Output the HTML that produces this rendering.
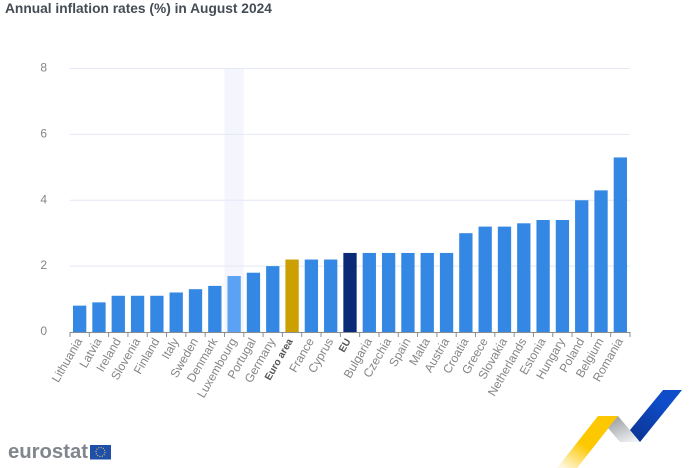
<!DOCTYPE html>
<html>
<head>
<meta charset="utf-8">
<title>Annual inflation rates</title>
<style>
html,body{margin:0;padding:0;background:#fff;width:700px;height:468px;overflow:hidden}
svg{display:block;font-family:"Liberation Sans",sans-serif}
</style>
</head>
<body>
<svg id="chart" width="700" height="468" viewBox="0 0 700 468" xmlns="http://www.w3.org/2000/svg">
  <defs>
    <linearGradient id="yg" x1="0.75" y1="0.2" x2="0.1" y2="1">
      <stop offset="0.45" stop-color="#fdc800"/>
      <stop offset="1" stop-color="#fdf8e0"/>
    </linearGradient>
    <linearGradient id="gg" x1="0.2" y1="0" x2="0.75" y2="1">
      <stop offset="0" stop-color="#9a9da0"/>
      <stop offset="1" stop-color="#eef0f4"/>
    </linearGradient>
    <linearGradient id="bg" x1="0.9" y1="0" x2="0.2" y2="1">
      <stop offset="0.3" stop-color="#0f4cc8"/>
      <stop offset="1" stop-color="#0b3595"/>
    </linearGradient>
  </defs>
  <text x="5" y="13" font-size="13.75" font-weight="700" fill="#444c55">Annual inflation rates (%) in August 2024</text>
  <g id="plot"></g>
  <g>
    <text x="8" y="458" font-size="20.5" font-weight="700" fill="#80868b" textLength="80" lengthAdjust="spacingAndGlyphs">eurostat</text>
    <rect x="90" y="445" width="21" height="14.5" fill="#1f4fa8"/>
    <circle cx="100.5" cy="452" r="4.5" fill="none" stroke="#e8d35a" stroke-width="1.1" stroke-dasharray="1 1.35"/>
  </g>
  <g>
    <polygon points="598,416 618,416 577,468 557,468" fill="url(#yg)"/>
    <polygon points="618,416 640,442 620,442 608,428" fill="url(#gg)"/>
    <polygon points="663,390 682,390 640,442 630,430" fill="url(#bg)"/>
  </g>
</svg>
<script>
const categories = ["Lithuania","Latvia","Ireland","Slovenia","Finland","Italy","Sweden","Denmark","Luxembourg","Portugal","Germany","Euro area","France","Cyprus","EU","Bulgaria","Czechia","Spain","Malta","Austria","Croatia","Greece","Slovakia","Netherlands","Estonia","Hungary","Poland","Belgium","Romania"];
const inflationValues = [0.8,0.9,1.1,1.1,1.1,1.2,1.3,1.4,1.7,1.8,2.0,2.2,2.2,2.2,2.4,2.4,2.4,2.4,2.4,2.4,3.0,3.2,3.2,3.3,3.4,3.4,4.0,4.3,5.3];
const yTickLabels = [0,2,4,6,8];
const hoveredCategory = "Luxembourg";
const euroAreaCategory = "Euro area";
const euCategory = "EU";

const NS = "http://www.w3.org/2000/svg";
const plot = document.getElementById("plot");
const left = 70, right = 630, baseY = 332, topY = 68.5, yMax = 8;
const step = (right - left) / categories.length;
const xAt = i => left + step * i;
const yAt = v => baseY - (v / yMax) * (baseY - topY);

function mk(tag, attrs, text) {
  const el = document.createElementNS(NS, tag);
  for (const k in attrs) el.setAttribute(k, attrs[k]);
  if (text !== undefined) el.textContent = text;
  plot.appendChild(el);
  return el;
}

const bandIndex = categories.indexOf(hoveredCategory);
const band = mk("rect", {x: xAt(bandIndex), y: topY, width: step, height: baseY - topY, fill: "#f5f6fd"});



yTickLabels.forEach(t => {
  if (t > 0) {
    const g = mk("line", {x1: left, x2: right, y1: yAt(t), y2: yAt(t), stroke: "#e4e7f5", "stroke-width": 1});
    
    
  }
  const l = mk("text", {x: 47, y: yAt(t) + 3, "text-anchor": "end", "font-size": 12, fill: "#858585"}, t);
  
  
});

categories.forEach((c, i) => {
  let fill = "#3488e4";
  if (c === hoveredCategory) fill = "#5ba2f5";
  if (c === euroAreaCategory) fill = "#cba000";
  if (c === euCategory) fill = "#0a2a78";
  const y = yAt(inflationValues[i]);
  const bar = mk("rect", {x: xAt(i) + 3, y: y, width: step - 6, height: baseY - y, fill: fill});
  
  

  const tx = xAt(i) + step / 2;
  const isBold = c === euroAreaCategory || c === euCategory;
  const lx = isBold ? tx + 1 : tx + 3;
  const ly = 341;
  const label = mk("text", {
    x: lx, y: ly, "text-anchor": "end",
    "font-size": isBold ? 10 : 12,
    "font-weight": isBold ? 700 : 400,
    fill: isBold ? "#555" : "#858585",
    transform: "rotate(-60 " + lx + " " + ly + ")"
  }, c);
  
  
});

for (let i = 0; i <= categories.length; i++) {
  const tick = mk("line", {x1: xAt(i), x2: xAt(i), y1: baseY, y2: baseY + 5, stroke: "#8a8f96", "stroke-width": 1});
  
  
}
const axis = mk("line", {x1: left, x2: right, y1: baseY + 0.5, y2: baseY + 0.5, stroke: "#8a8f96", "stroke-width": 1});


</script>
</body>
</html>
